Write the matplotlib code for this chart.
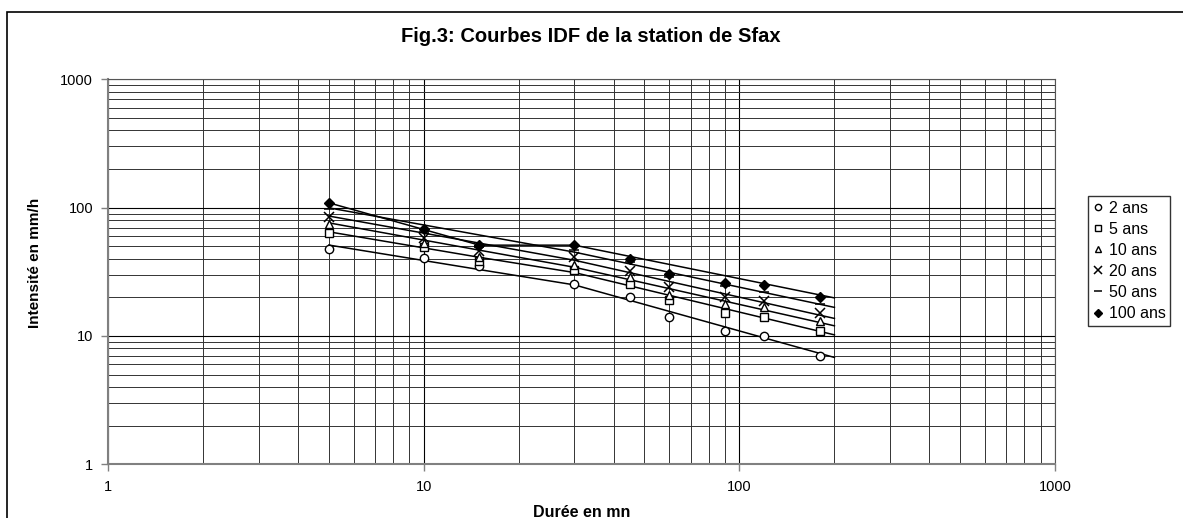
import numpy as np
import matplotlib.pyplot as plt
from matplotlib.patches import Rectangle
from matplotlib.ticker import LogLocator, FixedLocator, NullFormatter

plt.rcParams['font.family'] = ['Liberation Sans', 'DejaVu Sans']

# durées (mn) et intensités (mm/h)
durees = [5, 10, 15, 30, 45, 60, 90, 120, 180]
i_2ans = [47.3, 40.6, 35.2, 25.2, 20.0, 14.0, 11.0, 10.0, 7.0]
i_5ans = [63.7, 49.0, 38.5, 32.6, 25.2, 19.0, 15.0, 14.0, 11.0]
i_10ans = [74.0, 52.6, 41.4, 35.7, 28.9, 20.8, 17.9, 16.9, 13.1]
i_20ans = [85.0, 57.5, 45.8, 40.9, 32.0, 23.9, 20.2, 18.8, 15.0]
i_50ans = [97.0, 65.0, 49.5, 46.6, 37.4, 28.6, 24.5, 22.1, 17.9]
i_100ans = [108.0, 68.0, 51.0, 51.0, 39.5, 30.2, 26.0, 24.9, 20.0]

# courbes d'ajustement (valeurs à 5, 15, 30 et 200 mn)
tend_x = [5, 15, 30, 200]
tend_5 = [51.1, 64.8, 76.1, 86.0, 99.6, 109.0]
tend_15 = [32.9, 41.0, 46.6, 52.9, 61.2, 51.0]
tend_30 = [25.0, 31.2, 34.3, 38.9, 45.0, 51.0]
tend_200 = [6.8, 10.2, 12.0, 13.7, 16.7, 19.8]

labels = ['2 ans', '5 ans', '10 ans', '20 ans', '50 ans', '100 ans']
series = [i_2ans, i_5ans, i_10ans, i_20ans, i_50ans, i_100ans]
markers = ['o', 's', '^', 'x', '_', 'D']

fig = plt.figure(figsize=(11.83, 5.18), dpi=100)
ax = fig.add_axes([108.3 / 1183, 1 - 464.3 / 518, (1055 - 108.3) / 1183, (464.3 - 79.3) / 518])

for k, (vals, m, lab) in enumerate(zip(series, markers, labels)):
    ax.plot(tend_x, [tend_5[k], tend_15[k], tend_30[k], tend_200[k]], color='black', lw=1.1, zorder=3)
    if m == 'D':
        ax.plot(durees, vals, ls='none', marker='D', ms=5, mfc='black', mec='black', zorder=4, label=lab)
    elif m in ('x', '_'):
        ax.plot(durees, vals, ls='none', marker=m, ms=7, mew=1.1, color='black', zorder=4, label=lab)
    else:
        ax.plot(durees, vals, ls='none', marker=m, ms=6, mfc='white', mec='black', mew=1.0, zorder=4, label=lab)

ax.set_xscale('log')
ax.set_yscale('log')
ax.set_xlim(1, 1000)
ax.set_ylim(1, 1000)

ax.xaxis.set_major_locator(FixedLocator([1, 10, 100, 1000]))
ax.yaxis.set_major_locator(FixedLocator([1, 10, 100, 1000]))
ax.xaxis.set_minor_locator(LogLocator(base=10, subs=np.arange(2, 10)))
ax.yaxis.set_minor_locator(LogLocator(base=10, subs=np.arange(2, 10)))
ax.xaxis.set_minor_formatter(NullFormatter())
ax.yaxis.set_minor_formatter(NullFormatter())
ax.set_xticklabels(['1', '10', '100', '1000'])
ax.set_yticklabels(['1', '10', '100', '1000'])

ax.grid(which='major', color='black', lw=0.8)
ax.grid(which='minor', color='#333333', lw=0.7)
ax.set_axisbelow(True)

ax.tick_params(which='major', direction='out', length=5, width=1, color='#808080', labelsize=10.5, pad=6)
ax.tick_params(which='minor', length=0)
for s in ['left', 'bottom']:
    ax.spines[s].set_color('#808080')
    ax.spines[s].set_linewidth(1.5)
for s in ['top', 'right']:
    ax.spines[s].set_color('#555555')
    ax.spines[s].set_linewidth(0.8)

ax.set_xlabel('Durée en mn', fontsize=11.5, fontweight='bold', labelpad=8)
ax.set_ylabel('Intensité en mm/h', fontsize=11, fontweight='bold')
ax.yaxis.set_label_coords(-0.070, 0.523)

fig.text(0.499, 1 - 37 / 518, 'Fig.3: Courbes IDF de la station de Sfax', ha='center', va='center',
         fontsize=14.5, fontweight='bold')

leg = fig.legend(loc='upper left', bbox_to_anchor=(1088 / 1183, 1 - 196 / 518), frameon=True,
                 fancybox=False, edgecolor='black', fontsize=11.5, handlelength=0.6, handletextpad=0.4,
                 borderpad=0.3, labelspacing=0.38, borderaxespad=0, markerscale=0.75)
leg.get_frame().set_linewidth(1.0)

# cadre de la zone de graphique
fig.patches.append(Rectangle((7 / 1183, -0.1), 1.2, 1.1 - 12 / 518, transform=fig.transFigure,
                             fill=False, edgecolor='black', lw=1.2))

fig.savefig('out.png', dpi=100)
